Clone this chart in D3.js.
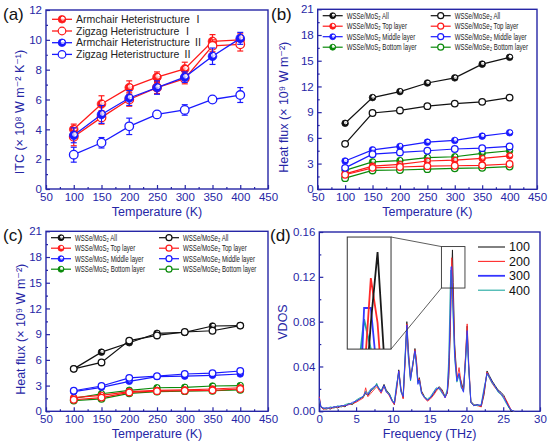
<!DOCTYPE html>
<html>
<head>
<meta charset="utf-8">
<script src="https://cdn.jsdelivr.net/npm/d3@7"></script>
<style>
  body { margin: 0; background: #fff; }
  svg { display: block; font-family: "Liberation Sans", "DejaVu Sans", sans-serif; }
</style>
</head>
<body>
<svg id="chart" width="550" height="444"></svg>
<script>
// ---- data ----
const temps = [100, 150, 200, 250, 300, 350, 400]

// (a) ITC, x 10^8 W m^-2 K^-1
const armchairI = [4.0, 5.7, 6.8, 7.5, 8.05, 9.9, 10.0]
const armchairIErr = [0.35, 0.55, 0.45, 0.35, 0.45, 0.45, 0.4]
const zigzagI = [3.5, 4.8, 6.0, 6.8, 7.4, 9.6, 9.7]
const zigzagIErr = [0.6, 0.45, 0.45, 0.4, 0.35, 0.4, 0.45]
const armchairII = [3.6, 5.0, 6.1, 6.8, 7.5, 8.9, 10.1]
const armchairIIErr = [0.5, 0.6, 0.5, 0.45, 0.35, 0.55, 0.4]
const zigzagII = [2.3, 3.1, 4.2, 5.0, 5.3, 6.0, 6.3]
const zigzagIIErr = [0.5, 0.35, 0.55, 0.1, 0.35, 0.1, 0.5]
const itcLabels = ['Armchair Heteristructure Ⅰ', 'Zigzag Heteristructure Ⅰ', 'Armchair Heteristructure Ⅱ', 'Zigzag Heteristructure Ⅱ']

// (b) heat flux, x 10^9 W m^-2
const bMoS2All = [7.7, 10.7, 11.4, 12.4, 13.0, 14.6, 15.4]
const bMoSe2All = [5.3, 8.9, 9.2, 9.7, 10.0, 10.2, 10.7]
const bMoS2Top = [1.8, 2.7, 2.9, 3.3, 3.4, 3.6, 3.9]
const bMoSe2Top = [1.7, 2.5, 2.6, 2.7, 2.75, 2.8, 2.95]
const bMoS2Mid = [3.3, 4.6, 5.0, 5.5, 5.7, 6.2, 6.6]
const bMoSe2Mid = [2.5, 4.1, 4.3, 4.5, 4.7, 4.8, 5.0]
const bMoS2Bot = [2.2, 3.2, 3.35, 3.7, 3.8, 4.2, 4.5]
const bMoSe2Bot = [1.3, 2.2, 2.25, 2.35, 2.45, 2.5, 2.65]

// (c) heat flux, x 10^9 W m^-2
const cMoS2All = [4.95, 6.9, 8.0, 9.1, 9.2, 9.95, 10.0]
const cMoSe2All = [4.95, 5.7, 8.25, 8.85, 9.25, 9.4, 10.0]
const cMoS2Top = [1.6, 1.85, 2.3, 2.45, 2.5, 2.6, 2.75]
const cMoSe2Top = [1.35, 1.6, 2.2, 2.35, 2.4, 2.45, 2.6]
const cMoS2Mid = [2.3, 2.8, 3.5, 4.05, 4.1, 4.2, 4.35]
const cMoSe2Mid = [2.4, 2.95, 3.9, 4.1, 4.35, 4.45, 4.7]
const cMoS2Bot = [1.5, 2.05, 2.45, 2.75, 2.8, 2.95, 3.0]
const cMoSe2Bot = [1.25, 1.45, 2.1, 2.3, 2.35, 2.4, 2.5]
const fluxLabels = ['WSSe/MoS₂ All', 'WSSe/MoS₂ Top layer', 'WSSe/MoS₂ Middle layer', 'WSSe/MoS₂ Bottom layer',
  'WSSe/MoSe₂ All', 'WSSe/MoSe₂ Top layer', 'WSSe/MoSe₂ Middle layer', 'WSSe/MoSe₂ Bottom layer']

// (d) VDOS
const freq = [0, 0.2, 0.5, 1, 1.5, 2, 2.5, 3, 3.5, 4, 4.5, 5, 5.5, 6, 6.3, 6.6, 7, 7.4, 7.8, 8.1,
  8.4, 8.8, 9.1, 9.5, 9.9, 10.2, 10.5, 10.8, 11.1, 11.4, 11.7, 11.9, 12.1, 12.4, 12.7, 13.0, 13.2, 13.4, 13.6, 13.9,
  14.3, 14.7, 15.1, 15.5, 15.9, 16.3, 16.7, 17.1, 17.4, 17.6, 17.8, 17.9, 18.0, 18.1, 18.2, 18.4, 18.7, 19.0, 19.3, 19.6,
  19.9, 20.1, 20.3, 20.6, 21.0, 21.5, 22.0, 22.4, 22.8, 23.1, 23.5, 23.9, 24.3, 24.7, 25.1, 25.5, 25.8, 26.1, 26.5]
const vdos100 = [0.011, 0.004, 0.002, 0.003, 0.002, 0.004, 0.003, 0.005, 0.004, 0.007, 0.006, 0.009, 0.011, 0.013, 0.016, 0.014, 0.018, 0.021, 0.024, 0.020,
  0.018, 0.024, 0.019, 0.016, 0.010, 0.006, 0.020, 0.037, 0.020, 0.012, 0.050, 0.080, 0.055, 0.030, 0.040, 0.056, 0.045, 0.026, 0.030, 0.018,
  0.013, 0.010, 0.012, 0.015, 0.019, 0.022, 0.019, 0.013, 0.016, 0.030, 0.070, 0.100, 0.125, 0.144, 0.115, 0.060, 0.030, 0.033, 0.026, 0.019,
  0.050, 0.076, 0.040, 0.008, 0.005, 0.006, 0.004, 0.015, 0.036, 0.032, 0.027, 0.023, 0.019, 0.017, 0.014, 0.008, 0.003, 0.000, 0.000]
const vdos200 = [0.013, 0.005, 0.002, 0.002, 0.003, 0.003, 0.004, 0.004, 0.005, 0.006, 0.007, 0.008, 0.010, 0.012, 0.021, 0.013, 0.016, 0.019, 0.022, 0.019,
  0.016, 0.022, 0.018, 0.014, 0.009, 0.006, 0.019, 0.036, 0.019, 0.011, 0.048, 0.078, 0.052, 0.029, 0.041, 0.055, 0.046, 0.028, 0.029, 0.017,
  0.012, 0.009, 0.011, 0.014, 0.018, 0.021, 0.018, 0.012, 0.017, 0.035, 0.075, 0.110, 0.137, 0.125, 0.100, 0.055, 0.029, 0.039, 0.024, 0.018,
  0.052, 0.078, 0.045, 0.009, 0.006, 0.005, 0.004, 0.017, 0.035, 0.030, 0.025, 0.021, 0.018, 0.015, 0.013, 0.009, 0.005, 0.001, 0.000]
const vdos300 = [0.012, 0.004, 0.003, 0.003, 0.003, 0.004, 0.004, 0.005, 0.005, 0.006, 0.008, 0.009, 0.011, 0.014, 0.017, 0.015, 0.019, 0.022, 0.023, 0.021,
  0.017, 0.023, 0.017, 0.015, 0.009, 0.007, 0.022, 0.036, 0.018, 0.013, 0.052, 0.077, 0.050, 0.028, 0.042, 0.054, 0.042, 0.024, 0.028, 0.016,
  0.012, 0.010, 0.012, 0.016, 0.020, 0.021, 0.017, 0.012, 0.018, 0.040, 0.085, 0.129, 0.129, 0.110, 0.090, 0.050, 0.027, 0.034, 0.022, 0.017,
  0.048, 0.072, 0.042, 0.008, 0.005, 0.006, 0.005, 0.019, 0.034, 0.031, 0.026, 0.022, 0.018, 0.016, 0.012, 0.007, 0.004, 0.001, 0.000]
const vdos400 = [0.010, 0.005, 0.003, 0.002, 0.004, 0.003, 0.005, 0.004, 0.006, 0.007, 0.007, 0.010, 0.012, 0.013, 0.018, 0.016, 0.020, 0.020, 0.025, 0.020,
  0.019, 0.022, 0.018, 0.016, 0.010, 0.008, 0.024, 0.034, 0.017, 0.014, 0.055, 0.074, 0.048, 0.027, 0.043, 0.052, 0.040, 0.025, 0.027, 0.016,
  0.013, 0.011, 0.013, 0.017, 0.021, 0.020, 0.016, 0.013, 0.020, 0.048, 0.110, 0.126, 0.118, 0.100, 0.082, 0.047, 0.026, 0.032, 0.021, 0.018,
  0.046, 0.068, 0.040, 0.009, 0.006, 0.005, 0.006, 0.021, 0.033, 0.030, 0.025, 0.022, 0.017, 0.015, 0.011, 0.006, 0.003, 0.001, 0.000]
const vdosLabels = ['100', '200', '300', '400']

// zoom box (around the main peak) and inset placement, in data units of panel (d)
const zoomBoxX = [16.6, 19.8], zoomBoxY = [0.110, 0.147]
const insetBoxX = [3.8, 9.75], insetBoxY = [0.0555, 0.1555]
const insetDomX = [17.65, 18.3], insetDomY = [0.118, 0.148]

// ---- styles ----
const axisColor = '#2626a6'
const RED = '#ff1a1a', BLUE = '#1a1aff', GREEN = '#0a8a0a', BLACK = '#111'
const vdosColors = ['#1a1a1a', '#ff2a2a', '#3535ff', '#20a8a0']

const svg = d3.select('#chart')
const defs = svg.append('defs')

// shaded "ball" fill for solid markers
let ballFill = (color) => {
  let id = 'ball' + color.replace('#', '')
  if (defs.select('#' + id).empty()) {
    let g = defs.append('radialGradient').attr('id', id)
      .attr('cx', '50%').attr('cy', '50%').attr('r', '55%')
      .attr('fx', '68%').attr('fy', '30%')
    g.append('stop').attr('offset', '0%').attr('stop-color', '#fff')
    g.append('stop').attr('offset', '35%').attr('stop-color', '#fff').attr('stop-opacity', 0.6)
    g.append('stop').attr('offset', '55%').attr('stop-color', color)
    g.append('stop').attr('offset', '100%').attr('stop-color', color)
  }
  return 'url(#' + id + ')'
}

let drawFrame = (box, x, y, o) => {
  let g = svg.append('g')
  // minor ticks
  g.append('g').attr('transform', `translate(0,${box.y1})`)
    .call(d3.axisBottom(x).tickValues(o.xMinor).tickSize(-2).tickFormat(''))
  g.append('g').attr('transform', `translate(${box.x0},0)`)
    .call(d3.axisLeft(y).tickValues(o.yMinor).tickSize(-2).tickFormat(''))
  // major ticks
  g.append('g').attr('transform', `translate(0,${box.y1})`)
    .call(d3.axisBottom(x).tickValues(o.xTicks).tickSizeInner(-4).tickSizeOuter(0).tickPadding(4).tickFormat(o.xFmt || d3.format('d')))
  g.append('g').attr('transform', `translate(${box.x0},0)`)
    .call(d3.axisLeft(y).tickValues(o.yTicks).tickSizeInner(-4).tickSizeOuter(0).tickPadding(4).tickFormat(o.yFmt || d3.format('d')))
  g.selectAll('.domain').remove()
  g.selectAll('line').attr('stroke', axisColor).attr('stroke-width', 1.2)
  g.selectAll('text').attr('fill', axisColor).attr('font-size', 11.5).attr('font-family', null)
  g.append('rect')
    .attr('x', box.x0).attr('y', box.y0)
    .attr('width', box.x1 - box.x0).attr('height', box.y1 - box.y0)
    .attr('fill', 'none').attr('stroke', axisColor).attr('stroke-width', 1.4)
  // x title
  g.append('text').attr('x', (box.x0 + box.x1) / 2).attr('y', box.y1 + 27)
    .attr('text-anchor', 'middle').attr('fill', axisColor).attr('font-size', 12.5)
    .text(o.xTitle)
  // y title
  g.append('text')
    .attr('transform', `translate(${o.yTitleX},${o.yTitleY}) rotate(-90)`)
    .attr('text-anchor', 'middle').attr('dy', '0.35em')
    .attr('fill', axisColor).attr('font-size', 12.5)
    .text(o.yTitle)
  // panel label
  svg.append('text').attr('x', o.labelX).attr('y', o.labelY)
    .attr('font-size', 17).attr('fill', '#111').text(o.label)
}

let drawSeries = (g, x, y, xs, vals, color, filled, r, errs, lw) => {
  let pts = xs.map((t, i) => [t, vals[i], errs ? errs[i] : 0])
  g.append('path').datum(pts)
    .attr('d', d3.line().x(d => x(d[0])).y(d => y(d[1])))
    .attr('fill', 'none').attr('stroke', color).attr('stroke-width', lw)
  if (errs) {
    let eb = g.append('g').attr('stroke', color).attr('stroke-width', 1.2)
    pts.forEach(d => {
      eb.append('line').attr('x1', x(d[0])).attr('x2', x(d[0])).attr('y1', y(d[1] - d[2])).attr('y2', y(d[1] + d[2]))
      ;[d[1] - d[2], d[1] + d[2]].forEach(v => {
        eb.append('line').attr('x1', x(d[0]) - 3).attr('x2', x(d[0]) + 3).attr('y1', y(v)).attr('y2', y(v))
      })
    })
  }
  g.selectAll(null).data(pts).enter().append('circle')
    .attr('cx', d => x(d[0])).attr('cy', d => y(d[1])).attr('r', r)
    .attr('fill', filled ? ballFill(color) : '#fff')
    .attr('stroke', color).attr('stroke-width', filled ? 0.8 : 1.3)
}

// k < 1 narrows the label horizontally (the reference legend type is condensed)
let legendItem = (g, x0, x1, y, color, filled, r, lw, label, size, k, font) => {
  g.append('line').attr('x1', x0).attr('x2', x1).attr('y1', y).attr('y2', y)
    .attr('stroke', color).attr('stroke-width', lw)
  g.append('circle').attr('cx', (x0 + x1) / 2).attr('cy', y).attr('r', r)
    .attr('fill', filled ? ballFill(color) : '#fff')
    .attr('stroke', color).attr('stroke-width', filled ? 0.8 : 1.2)
  let t = g.append('text').attr('dy', '0.35em')
    .attr('transform', `translate(${x1 + 4},${y}) scale(${k || 1},1)`)
    .attr('font-size', size).attr('fill', '#222').text(label)
  if (font) t.attr('font-family', font)
}

const tempTicks = d3.range(50, 451, 50)
const tempMinor = d3.range(75, 450, 50)

// ---- panel (a) ----
{
  const box = { x0: 46, x1: 268, y0: 10, y1: 189 }
  const x = d3.scaleLinear().domain([50, 450]).range([box.x0, box.x1])
  const y = d3.scaleLinear().domain([0, 12]).range([box.y1, box.y0])
  drawFrame(box, x, y, {
    xTicks: tempTicks, xMinor: tempMinor, yTicks: d3.range(0, 13, 2), yMinor: d3.range(1, 12, 2),
    xTitle: 'Temperature (K)',
    yTitle: 'ITC (× 10⁸ W m⁻² K⁻¹)',
    yTitleX: 20, yTitleY: 112, label: '(a)', labelX: 3, labelY: 20
  })
  const g = svg.append('g')
  drawSeries(g, x, y, temps, armchairI, RED, true, 4.3, armchairIErr, 1.3)
  drawSeries(g, x, y, temps, zigzagI, RED, false, 4.3, zigzagIErr, 1.3)
  drawSeries(g, x, y, temps, armchairII, BLUE, true, 4.3, armchairIIErr, 1.3)
  drawSeries(g, x, y, temps, zigzagII, BLUE, false, 4.3, zigzagIIErr, 1.3)
  const lg = svg.append('g')
  const styles = [[RED, true], [RED, false], [BLUE, true], [BLUE, false]]
  itcLabels.forEach((lab, i) => legendItem(lg, box.x0 + 6, box.x0 + 26, box.y0 + 9.3 + i * 11.7,
    styles[i][0], styles[i][1], 3.8, 1.3, lab, 10.5, null, '"Liberation Sans", "Noto Sans CJK SC", sans-serif'))
}

// legend styles shared by (b) and (c)
const fluxStyles = [[BLACK, true], [RED, true], [BLUE, true], [GREEN, true],
  [BLACK, false], [RED, false], [BLUE, false], [GREEN, false]]

let fluxPanel = (box, series, label, labelX, labelY, yTitleX) => {
  const x = d3.scaleLinear().domain([50, 450]).range([box.x0, box.x1])
  const y = d3.scaleLinear().domain([0, 21]).range([box.y1, box.y0])
  drawFrame(box, x, y, {
    xTicks: tempTicks, xMinor: tempMinor, yTicks: d3.range(0, 22, 3), yMinor: d3.range(1.5, 21, 3),
    xTitle: 'Temperature (K)',
    yTitle: 'Heat flux (× 10⁹ W m⁻²)',
    yTitleX: yTitleX, yTitleY: (box.y0 + box.y1) / 2 + 8, label: label, labelX: labelX, labelY: labelY
  })
  const g = svg.append('g')
  series.forEach(s => drawSeries(g, x, y, temps, s[0], s[1], s[2], 3.3, null, 1.2))
  const lg = svg.append('g')
  fluxLabels.forEach((lab, i) => {
    let col = Math.floor(i / 4), row = i % 4
    let lx = box.x0 + 5 + col * 108
    legendItem(lg, lx, lx + 20, box.y0 + 6.4 + row * 10.5, fluxStyles[i][0], fluxStyles[i][1], 3, 1.2, lab, 8.5, 0.72)
  })
}

// ---- panel (b) ----
fluxPanel({ x0: 317.7, x1: 537, y0: 9.3, y1: 189.3 }, [
  [bMoS2All, BLACK, true], [bMoSe2All, BLACK, false],
  [bMoS2Bot, GREEN, true], [bMoSe2Bot, GREEN, false],
  [bMoS2Top, RED, true], [bMoSe2Top, RED, false],
  [bMoS2Mid, BLUE, true], [bMoSe2Mid, BLUE, false]
], '(b)', 271, 20, 284)

// ---- panel (c) ----
fluxPanel({ x0: 46, x1: 268, y0: 231.3, y1: 411.3 }, [
  [cMoS2All, BLACK, true], [cMoSe2All, BLACK, false],
  [cMoS2Bot, GREEN, true], [cMoSe2Bot, GREEN, false],
  [cMoS2Top, RED, true], [cMoSe2Top, RED, false],
  [cMoS2Mid, BLUE, true], [cMoSe2Mid, BLUE, false]
], '(c)', 3, 241, 21)

// ---- panel (d) ----
{
  const box = { x0: 319.3, x1: 540, y0: 232, y1: 411.3 }
  const x = d3.scaleLinear().domain([0, 30]).range([box.x0, box.x1])
  const y = d3.scaleLinear().domain([0, 0.16]).range([box.y1, box.y0])
  drawFrame(box, x, y, {
    xTicks: d3.range(0, 31, 5), xMinor: d3.range(2.5, 30, 5),
    yTicks: [0, 0.04, 0.08, 0.12, 0.16], yMinor: [0.02, 0.06, 0.10, 0.14],
    xFmt: d3.format('d'), yFmt: d3.format('.2f'),
    xTitle: 'Frequency (THz)', yTitle: 'VDOS',
    yTitleX: 283, yTitleY: 322, label: '(d)', labelX: 270, labelY: 241
  })
  const series = [vdos100, vdos200, vdos300, vdos400]
  const order = [0, 1, 3, 2]
  const g = svg.append('g')
  order.forEach(k => {
    g.append('path').datum(freq.map((f, i) => [f, series[k][i]]))
      .attr('d', d3.line().x(d => x(d[0])).y(d => y(d[1])))
      .attr('fill', 'none').attr('stroke', vdosColors[k]).attr('stroke-width', 0.9)
  })
  // zoom box + connectors + inset
  const zx0 = x(zoomBoxX[0]), zx1 = x(zoomBoxX[1]), zy0 = y(zoomBoxY[1]), zy1 = y(zoomBoxY[0])
  const ix0 = x(insetBoxX[0]), ix1 = x(insetBoxX[1]), iy0 = y(insetBoxY[1]), iy1 = y(insetBoxY[0])
  const frameCol = '#333'
  g.append('rect').attr('x', zx0).attr('y', zy0).attr('width', zx1 - zx0).attr('height', zy1 - zy0)
    .attr('fill', 'none').attr('stroke', frameCol).attr('stroke-width', 0.9)
  g.append('line').attr('x1', ix1).attr('y1', iy0).attr('x2', zx0).attr('y2', zy0).attr('stroke', frameCol).attr('stroke-width', 0.8)
  g.append('line').attr('x1', ix1).attr('y1', iy1).attr('x2', zx0).attr('y2', zy1).attr('stroke', frameCol).attr('stroke-width', 0.8)
  defs.append('clipPath').attr('id', 'insetClip').append('rect')
    .attr('x', ix0).attr('y', iy0).attr('width', ix1 - ix0).attr('height', iy1 - iy0)
  g.append('rect').attr('x', ix0).attr('y', iy0).attr('width', ix1 - ix0).attr('height', iy1 - iy0).attr('fill', '#fff')
  const ixs = d3.scaleLinear().domain(insetDomX).range([ix0, ix1])
  const iys = d3.scaleLinear().domain(insetDomY).range([iy1, iy0])
  const ig = g.append('g').attr('clip-path', 'url(#insetClip)')
  ;[3, 2, 1, 0].forEach(k => {
    ig.append('path').datum(freq.map((f, i) => [f, series[k][i]]))
      .attr('d', d3.line().x(d => ixs(d[0])).y(d => iys(d[1])))
      .attr('fill', 'none').attr('stroke', vdosColors[k]).attr('stroke-width', 1.8)
  })
  g.append('rect').attr('x', ix0).attr('y', iy0).attr('width', ix1 - ix0).attr('height', iy1 - iy0)
    .attr('fill', 'none').attr('stroke', frameCol).attr('stroke-width', 1)
  // legend
  vdosLabels.forEach((lab, i) => {
    let ly = 247 + i * 14.4
    g.append('line').attr('x1', 478).attr('x2', 505).attr('y1', ly).attr('y2', ly)
      .attr('stroke', vdosColors[i]).attr('stroke-width', i === 2 ? 1.8 : 1.1)
    g.append('text').attr('x', 509).attr('y', ly).attr('dy', '0.35em')
      .attr('font-size', 12.5).attr('fill', '#111').text(lab)
  })
}
</script>
</body>
</html>
